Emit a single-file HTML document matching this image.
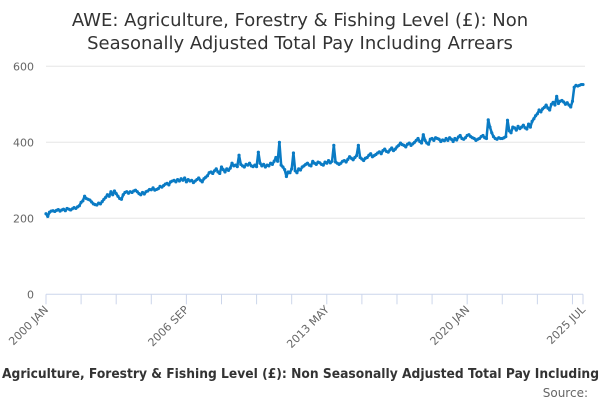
<!DOCTYPE html>
<html><head><meta charset="utf-8"><style>
body{margin:0;background:#fff;}
svg{display:block;font-family:"DejaVu Sans","Liberation Sans",sans-serif;}
</style></head><body>
<svg id="chart" width="600" height="400">
<text x="300" y="26" text-anchor="middle" font-size="18" fill="#333">AWE: Agriculture, Forestry &amp; Fishing Level (£): Non</text>
<text x="300" y="49" text-anchor="middle" font-size="18" fill="#333">Seasonally Adjusted Total Pay Including Arrears</text>
<g id="grid"></g>
<g id="yaxis"></g>
<g id="xaxis"></g>
<g id="series"></g>
<text x="2" y="378" font-size="13" font-weight="bold" fill="#333" textLength="597" lengthAdjust="spacingAndGlyphs">Agriculture, Forestry &amp; Fishing Level (£): Non Seasonally Adjusted Total Pay Including</text>
<text x="588" y="397" text-anchor="end" font-size="12" fill="#666">Source:</text>
</svg>
<script>
const yTicks=[0,200,400,600];
const xTickLabels=["2000 JAN","2006 SEP","2013 MAY","2020 JAN","2025 JUL"];
const xTickLabelIdx=[0,80,160,240,306];
const values=[
212,205,216,219,220,218,221,223,219,222,224,220,
226,224,222,225,228,226,230,233,242,246,258,252,
250,248,243,238,236,235,240,238,244,250,255,262,
258,270,262,272,265,258,252,250,262,268,270,266,
270,268,272,274,270,265,262,268,264,270,272,276,
275,280,274,276,278,284,282,286,290,292,288,296,
298,300,296,302,298,304,300,306,296,302,298,300,
294,298,302,306,300,296,304,308,312,320,322,318,
325,330,322,318,335,328,322,330,326,332,345,338,
340,336,366,342,338,335,342,340,345,338,336,340,
336,374,345,338,342,335,340,338,345,342,350,360,
350,400,340,335,328,310,322,320,330,372,325,320,
330,327,335,338,342,345,340,338,350,345,342,348,
346,342,340,348,345,352,346,350,392,348,345,342,
345,350,352,348,355,362,358,354,360,365,392,360,
356,352,358,360,366,370,362,365,368,372,375,370,
378,382,376,374,380,385,378,382,388,392,398,394,
392,388,395,398,392,396,400,405,410,402,398,420,
405,398,395,408,410,405,412,410,408,402,406,404,
410,405,412,408,402,410,406,414,418,410,408,412,
418,420,415,412,410,405,408,410,415,418,412,410,
459,440,425,415,410,408,412,410,410,412,415,458,
430,425,440,438,432,442,436,440,445,438,435,448,
440,455,462,470,475,485,480,488,492,498,490,485,
500,505,498,521,502,508,510,506,500,504,498,493,
508,545,550,548,550,552,552];
const NS="http://www.w3.org/2000/svg";
const X0=46,X1=583,Y0=294.3,Y600=66.3;
const n=values.length;
function xs(i){return X0+(X1-X0)*i/(n-1);}
function ys(v){return Y0-(Y0-Y600)*v/600;}
const grid=document.getElementById('grid'),yax=document.getElementById('yaxis'),xax=document.getElementById('xaxis'),ser=document.getElementById('series');
function mk(t,a,p){const e=document.createElementNS(NS,t);for(const k in a)e.setAttribute(k,a[k]);p.appendChild(e);return e;}
yTicks.forEach(v=>{
 if(v>0){const g=mk('line',{x1:X0,x2:585,y1:ys(v),y2:ys(v),stroke:'#e6e6e6','stroke-width':1},grid);
 
 }
 const t=mk('text',{x:34,y:ys(v)+4,'text-anchor':'end','font-size':11,fill:'#666'},yax);t.textContent=v;
 
 
});
const al=mk('line',{x1:X0,x2:X1,y1:Y0,y2:Y0,stroke:'#ccd6eb','stroke-width':1},xax);


for(let m=0;m<n;m+=20){const tk=mk('line',{x1:xs(m),x2:xs(m),y1:Y0,y2:Y0+10,stroke:'#ccd6eb'},xax);
 
 }
const te=mk('line',{x1:xs(n-1),x2:xs(n-1),y1:Y0,y2:Y0+10,stroke:'#ccd6eb'},xax);


xTickLabels.forEach((s,i)=>{const x=xs(xTickLabelIdx[i]);
 const t=mk('text',{x:x+3,y:Y0+16,'text-anchor':'end','font-size':11,fill:'#666',transform:`rotate(-45 ${x+3} ${Y0+16})`},xax);t.textContent=s;
 
 });
const d=values.map((v,i)=>(i?'L':'M')+xs(i).toFixed(2)+' '+ys(v).toFixed(2)).join(' ');
const p=mk('path',{d:d,fill:'none',stroke:'#0a7bc4','stroke-width':2.5,'stroke-linejoin':'round'},ser);


values.forEach((v,i)=>{const c=mk('circle',{cx:xs(i),cy:ys(v),r:1.6,fill:'#0a7bc4'},ser);
 
 });
</script>
</body></html>
